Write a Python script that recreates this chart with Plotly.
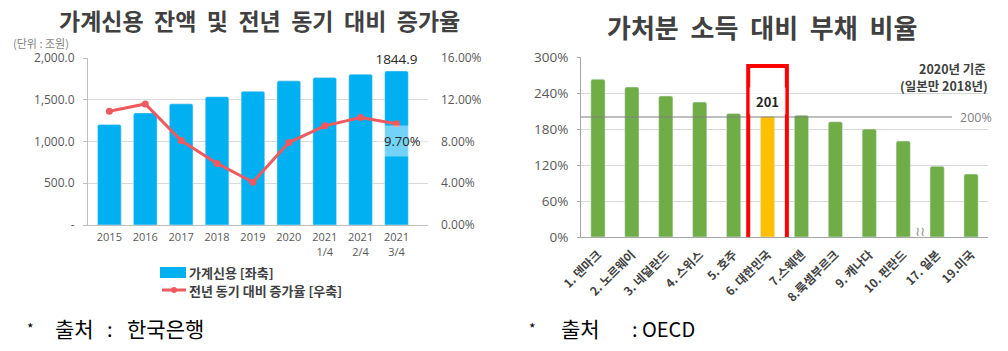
import plotly.graph_objects as go

W, H = 1008, 351
KR = "Noto Sans CJK KR"

# ---------- data: left chart ----------
periods = ["2015", "2016", "2017", "2018", "2019", "2020",
           "2021<br>1/4", "2021<br>2/4", "2021<br>3/4"]
credit_balance = [1203.1, 1342.5, 1450.9, 1536.7, 1600.3, 1726.1, 1765.0, 1805.9, 1844.9]
growth_rate = [10.9, 11.6, 8.1, 5.9, 4.1, 7.9, 9.5, 10.3, 9.7]
left_tickvals = [0, 500, 1000, 1500, 2000]
left_ticktext = ["-", "500.0", "1,000.0", "1,500.0", "2,000.0"]
right_tickvals = [0, 4, 8, 12, 16]
right_ticktext = ["0.00%", "4.00%", "8.00%", "12.00%", "16.00%"]

# ---------- data: right chart ----------
countries = ["1. 덴마크", "2. 노르웨이", "3. 네덜란드", "4. 스위스", "5. 호주",
             "6. 대한민국", "7.스웨덴", "8.룩셈부르크", "9. 캐나다", "10. 핀란드",
             "17. 일본", "19.미국"]
debt_ratio = [263, 250, 235, 225, 206, 201, 203, 192, 180, 160, 118, 105]
ratio_tickvals = [0, 60, 120, 180, 240, 300]
ratio_ticktext = ["0%", "60%", "120%", "180%", "240%", "300%"]
reference_level = 200
highlight = "6. 대한민국"

BLUE = "#00B0F0"
RED = "#EF5A5F"
GREEN = "#70AD47"
GOLD = "#FFC000"
SP = "\u00a0\u00a0"


def px(x):
    return x / W


def py(y):
    return 1 - y / H


fig = go.Figure()

fig.add_trace(go.Bar(
    x=periods, y=credit_balance, marker_color=BLUE, width=0.66,
    xaxis="x", yaxis="y", showlegend=False,
    text=[""] * (len(credit_balance) - 1) + [f"{credit_balance[-1]:.1f}"],
    textposition="outside", constraintext="none",
    textfont=dict(size=13.5, color="#262626", family="Open Sans"),
    cliponaxis=False, hoverinfo="skip",
))
fig.add_trace(go.Scatter(
    x=periods, y=growth_rate, mode="lines+markers",
    line=dict(color=RED, width=3), marker=dict(size=7, color=RED),
    xaxis="x", yaxis="y2", showlegend=False, hoverinfo="skip",
))

bar_colors = [GOLD if c == highlight else GREEN for c in countries]
fig.add_trace(go.Bar(
    x=countries, y=debt_ratio, marker_color=bar_colors, width=0.42,
    xaxis="x2", yaxis="y3", showlegend=False, hoverinfo="skip",
))

grid = "#D9D9D9"
axline = "#BFBFBF"
tickc = "#595959"

fig.update_layout(
    width=W, height=H, margin=dict(l=0, r=0, t=0, b=0, autoexpand=False),
    paper_bgcolor="white", plot_bgcolor="white",
    font=dict(family=KR, color=tickc),
    barcornerradius=2,
    xaxis=dict(domain=[px(88), px(428)], anchor="y", showline=True, linecolor=axline,
               tickfont=dict(size=11, color=tickc, family="Open Sans"), ticks="",
               showgrid=False, automargin=False, ticklabelstandoff=2),
    yaxis=dict(domain=[py(225), py(58)], range=[0, 2000], tickvals=left_tickvals,
               ticktext=left_ticktext, showgrid=True, gridcolor=grid, showline=True,
               linecolor=axline, ticks="outside", ticklen=4, tickcolor=axline,
               zeroline=False, tickfont=dict(size=12, color=tickc, family="Open Sans"),
               ticklabelstandoff=6, automargin=False),
    yaxis2=dict(overlaying="y", anchor="x", side="right", range=[0, 16],
                tickvals=right_tickvals, ticktext=right_ticktext, showgrid=False,
                zeroline=False, showline=False,
                tickfont=dict(size=12, color=tickc, family="Open Sans"),
                ticklabelstandoff=12, automargin=False),
    xaxis2=dict(domain=[px(581), px(988)], anchor="y3", showline=True, linecolor="#A6A6A6",
                tickangle=-45, ticks="", showgrid=False, automargin=False,
                ticklabelstandoff=5,
                tickfont=dict(size=12, color="#404040", family=KR, weight="bold")),
    yaxis3=dict(domain=[py(237), py(57)], anchor="x2", range=[0, 300],
                tickvals=ratio_tickvals, ticktext=ratio_ticktext, showgrid=True, gridcolor=grid,
                showline=True, linecolor="#A6A6A6", zeroline=False, ticks="outside",
                ticklen=3, tickcolor="#A6A6A6", automargin=False,
                tickfont=dict(size=13.5, color="#595959", family="Open Sans"),
                ticklabelstandoff=6),
)

ki = countries.index(highlight)
shapes = [
    dict(type="line", xref="x2 domain", yref="y3", x0=0, x1=(952 - 581) / 407,
         y0=reference_level, y1=reference_level, line=dict(color="#808080", width=1.2)),
    dict(type="rect", xref="x2", yref="y3", x0=ki - 0.57, x1=ki + 0.57, y0=-5, y1=285,
         line=dict(color="#FF0000", width=4)),
    # custom legend symbols
    dict(type="rect", xref="paper", yref="paper", x0=px(160), x1=px(186),
         y0=py(278), y1=py(267), fillcolor=BLUE, line=dict(width=0)),
    dict(type="line", xref="paper", yref="paper", x0=px(162), x1=px(186),
         y0=py(290), y1=py(290), line=dict(color=RED, width=3)),
    dict(type="circle", xref="paper", yref="paper", x0=px(171), x1=px(177),
         y0=py(293), y1=py(287), fillcolor=RED, line=dict(width=0)),
]
fig.update_layout(shapes=shapes)


def note(text, x, y, size, color, family=KR, xanchor="center", **kw):
    d = dict(text=text, x=x, y=y, xref="paper", yref="paper", showarrow=False,
             xanchor=xanchor, yanchor="middle", font=dict(size=size, color=color, family=family))
    d.update(kw)
    return d


left_title = SP.join(["가계신용", "잔액", "및", "전년", "동기", "대비", "증가율"])
right_title = SP.join(["가처분", "소득", "대비", "부채", "비율"])

ann = []
ann.append(note(f"<b>{left_title}</b>", px(259), py(20), 23, "#404040"))
ann.append(note(f"<b>{right_title}</b>", px(762), py(27), 26, "#404040"))
ann.append(note("(단위 : 조원)", px(11), py(43), 11, "#7F7F7F", xanchor="left"))
# last growth value label
ann.append(dict(text=f"{growth_rate[-1]:.2f}%", x=periods[-1], y=growth_rate[-1],
                xref="x", yref="y2", showarrow=False, yshift=-17, xshift=6,
                xanchor="center", yanchor="middle",
                bgcolor="rgba(255,255,255,0.45)", borderpad=6,
                font=dict(size=13, color="#262626", family="Open Sans")))
# highlighted value label
ann.append(dict(text=f"<b>{debt_ratio[ki]}</b>", x=highlight, y=debt_ratio[ki],
                xref="x2", yref="y3", showarrow=False, yshift=15, width=33, height=24,
                xanchor="center", yanchor="middle",
                bgcolor="rgba(255,255,255,0.75)",
                font=dict(size=13, color="#262626", family=KR)))
ann.append(note("<b>2020년 기준</b>", px(988), py(68), 12.5, "#404040", xanchor="right"))
ann.append(note("<b>(일본만 2018년)</b>", px(990), py(85.5), 12.5, "#404040", xanchor="right"))
ann.append(dict(text=f"{reference_level}%", x=px(958), y=reference_level, xref="paper", yref="y3",
                xanchor="left", yanchor="middle", showarrow=False,
                font=dict(size=12.5, color="#7F7F7F", family="Open Sans")))
ann.append(dict(text="≀≀", x=9.5, y=0, xref="x2", yref="y3", showarrow=False, yshift=6,
                xanchor="center", yanchor="middle",
                font=dict(size=13, color="#8C8C8C", family="DejaVu Sans")))
# legend texts
ann.append(note("<b>가계신용 [좌축]</b>", px(187), py(272), 13, "#404040", xanchor="left"))
ann.append(note("<b>전년 동기 대비 증가율 [우축]</b>", px(187), py(290.5), 13, "#404040",
                xanchor="left"))
# sources
for xa, xb, xc, xd, word in [(25, 53, 105, 125, "한국은행"), (527, 559, 630, 640, "OECD")]:
    ann.append(note("*", px(xa), py(328), 14, "black", xanchor="left"))
    ann.append(note("출처", px(xb), py(328), 21, "black", xanchor="left"))
    ann.append(note(":", px(xc), py(328), 20, "black", xanchor="left"))
    ann.append(note(word, px(xd), py(328), 21 if word != "OECD" else 20, "black", xanchor="left"))
fig.update_layout(annotations=ann)

fig.write_html("out.html")
